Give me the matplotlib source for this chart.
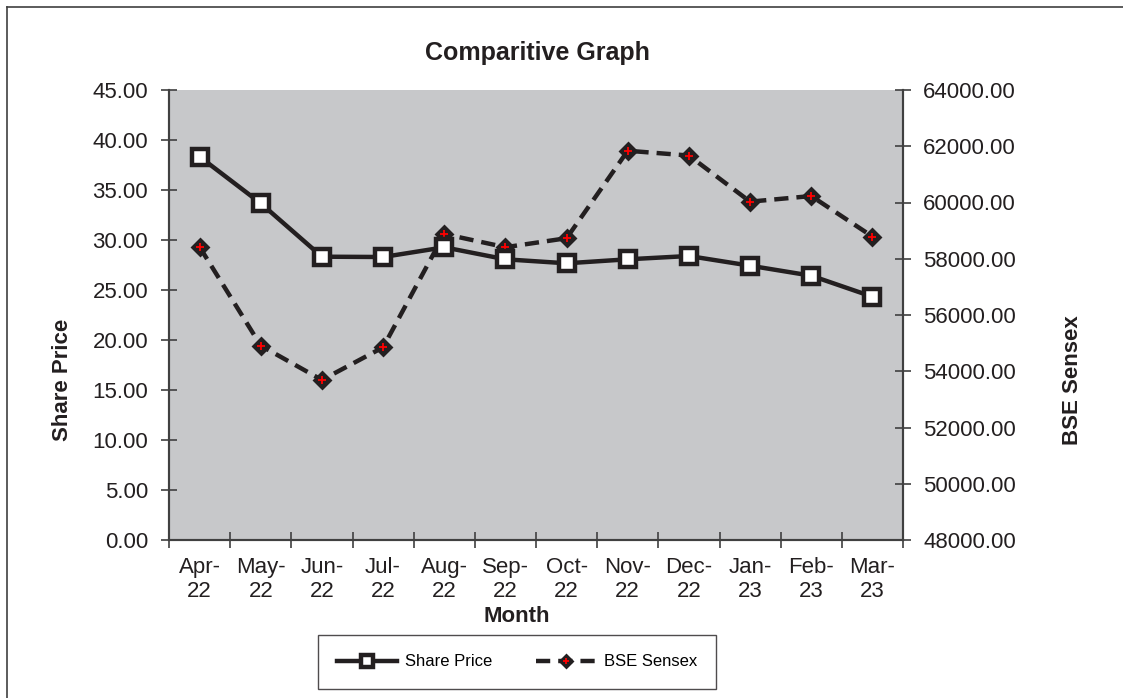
import matplotlib
matplotlib.use("Agg")
import matplotlib.pyplot as plt
from matplotlib.lines import Line2D
from matplotlib.legend_handler import HandlerTuple

plt.rcParams['font.family'] = ['Liberation Sans', 'DejaVu Sans']

# data
months = ["Apr-\n22", "May-\n22", "Jun-\n22", "Jul-\n22", "Aug-\n22", "Sep-\n22",
          "Oct-\n22", "Nov-\n22", "Dec-\n22", "Jan-\n23", "Feb-\n23", "Mar-\n23"]
share_price = [38.33, 33.67, 28.33, 28.30, 29.27, 28.07, 27.67, 28.07, 28.40, 27.43, 26.43, 24.33]
bse_sensex = [58420, 54910, 53690, 54850, 58880, 58410, 58730, 61840, 61670, 60030, 60230, 58790]

W, H = 1123, 698
fig = plt.figure(figsize=(W / 100, H / 100), dpi=100)
fig.patch.set_facecolor('white')

ax = fig.add_axes([169 / W, 1 - 540 / H, (903 - 169) / W, (540 - 90) / H])
ax2 = ax.twinx()

# gray plot area on the back axis, share price drawn on top
ax2.patch.set_visible(True)
ax2.patch.set_facecolor('#c7c8ca')
ax.set_zorder(ax2.get_zorder() + 1)
ax.patch.set_visible(False)

x = list(range(len(months)))
dark = '#231f20'

share_line, = ax.plot(x, share_price, color=dark, lw=3.2, marker='s', ms=11,
                      mfc='white', mec=dark, mew=3.2, solid_joinstyle='miter')
bse_line, = ax2.plot(x, bse_sensex, color=dark, lw=3.2, ls=(0, (3.2, 1.8)),
                     marker='D', ms=8, mfc=dark, mec=dark, mew=2)
bse_plus, = ax2.plot(x, bse_sensex, ls='none', marker='+', ms=6, mew=1.3, color='red')

ax.set_xlim(-0.5, len(months) - 0.5)
ax.set_ylim(0, 45)
ax2.set_ylim(48000, 64000)
ax.set_yticks([i * 5 for i in range(10)])
ax.set_yticklabels([f"{i * 5:.2f}" for i in range(10)])
ax2.set_yticks([48000 + i * 2000 for i in range(9)])
ax2.set_yticklabels([f"{48000 + i * 2000:.2f}" for i in range(9)])

ax.set_xticks(x)
ax.set_xticklabels(months, linespacing=1.2)
ax.set_xticks([i - 0.5 for i in range(len(months) + 1)], minor=True)
ax.tick_params(axis='x', which='major', length=0, pad=12, labelsize=16, colors=dark)
ax.tick_params(axis='x', which='minor', length=12, direction='inout', width=1.2, color='#404040')
ax.tick_params(axis='y', length=12, direction='inout', width=1.2, pad=9, labelsize=16,
               color='#404040', labelcolor=dark)
ax2.tick_params(axis='y', length=12, direction='inout', width=1.2, pad=8.5, labelsize=16,
                color='#404040', labelcolor=dark)

for a in (ax, ax2):
    for s in ('left', 'right', 'bottom'):
        a.spines[s].set_color('#404040')
        a.spines[s].set_linewidth(1.5)
    a.spines['top'].set_visible(False)

fig.text(537 / W, 1 - 53 / H, "Comparitive Graph", ha='center', va='center',
         fontsize=18, fontweight='bold', color=dark)
fig.text(63 / W, 1 - 380 / H, "Share Price", rotation=90, ha='center', va='center',
         fontsize=16, fontweight='bold', color=dark)
fig.text(1072 / W, 1 - 380 / H, "BSE Sensex", rotation=90, ha='center', va='center',
         fontsize=16, fontweight='bold', color=dark)
fig.text(517 / W, 1 - 617 / H, "Month", ha='center', va='center',
         fontsize=16, fontweight='bold', color=dark)

leg = fig.legend([share_line, (bse_line, bse_plus)], ["Share Price", "BSE Sensex"],
                 handler_map={tuple: HandlerTuple(ndivide=1)},
                 loc='center', bbox_to_anchor=(517 / W, 1 - 662 / H), ncol=2,
                 fontsize=12, handlelength=3.6, markerscale=0.75, columnspacing=2.6,
                 frameon=True, fancybox=False, borderpad=1.15, borderaxespad=0,
                 handletextpad=0.5)
leg.get_frame().set_edgecolor(dark)
leg.get_frame().set_linewidth(1.0)

# outer chart border (top and left edges visible)
fig.add_artist(Line2D([7 / W, 7 / W], [0, 1 - 7 / H], color='#404040', lw=1.2,
                      transform=fig.transFigure))
fig.add_artist(Line2D([7 / W, 1], [1 - 7 / H, 1 - 7 / H], color='#404040', lw=1.2,
                      transform=fig.transFigure))

fig.savefig("out.png", dpi=100)
